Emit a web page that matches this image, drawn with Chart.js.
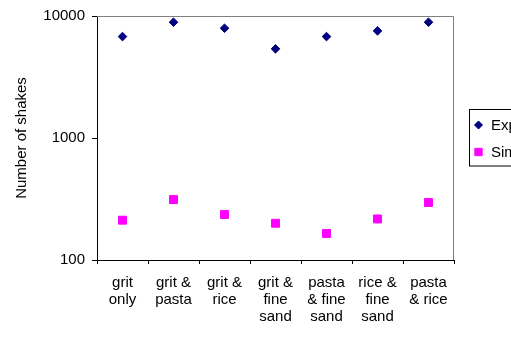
<!DOCTYPE html>
<html>
<head>
<meta charset="utf-8">
<script src="https://cdn.jsdelivr.net/npm/chart.js@4/dist/chart.umd.min.js"></script>
<style>
  html, body { margin: 0; padding: 0; background: #fff; overflow: hidden; }
  #wrap { width: 511px; height: 338px; }
</style>
</head>
<body>
<div id="wrap"><canvas id="c" width="511" height="338"></canvas></div>
<script>
const categories = [
  ["grit", "only"],
  ["grit &", "pasta"],
  ["grit &", "rice"],
  ["grit &", "fine", "sand"],
  ["pasta", "& fine", "sand"],
  ["rice &", "fine", "sand"],
  ["pasta", "& rice"]
];
const seriesNames = ["Experiment", "Simulation"];
const experiment = [6780, 8890, 7940, 5380, 6780, 7550, 8890];
const simulation = [212, 313, 236, 200, 165, 217, 296];
const yTicks = [100, 1000, 10000];
const yTitle = "Number of shakes";

const FONT = "'Liberation Sans', Arial, sans-serif";
Chart.defaults.font.family = FONT;
Chart.defaults.font.size = 15;
Chart.defaults.color = '#000';

const plotBorder = {
  id: 'plotBorder',
  beforeDatasetsDraw(chart) {
    const { ctx, chartArea: a } = chart;
    ctx.save();
    ctx.strokeStyle = '#808080';
    ctx.lineWidth = 1;
    ctx.beginPath();
    ctx.moveTo(a.left, Math.round(a.top) + 0.5);
    ctx.lineTo(Math.round(a.right) - 0.5, Math.round(a.top) + 0.5);
    ctx.lineTo(Math.round(a.right) - 0.5, a.bottom);
    ctx.stroke();
    ctx.restore();
  }
};

const sideLegend = {
  id: 'sideLegend',
  afterDraw(chart) {
    const { ctx } = chart;
    ctx.save();
    ctx.strokeStyle = '#000';
    ctx.lineWidth = 1;
    ctx.strokeRect(469.5, 109.5, 80, 56.5);
    ctx.font = '15px ' + FONT;
    ctx.textBaseline = 'middle';
    ctx.textAlign = 'left';
    chart.data.datasets.forEach((ds, i) => {
      const y = 125 + i * 27;
      ctx.fillStyle = ds.backgroundColor;
      ctx.strokeStyle = ds.borderColor;
      ctx.lineWidth = 1;
      Chart.helpers.drawPoint(ctx, {
        pointStyle: ds.pointStyle,
        radius: ds.pointStyle === 'rect' ? 5.2 : 4,
        borderWidth: 1,
        rotation: 0
      }, 478.5, y);
      ctx.fillStyle = '#000';
      ctx.fillText(ds.label, 491, y + 1);
    });
    ctx.restore();
  }
};

new Chart(document.getElementById('c'), {
  type: 'line',
  data: {
    labels: categories,
    datasets: [
      {
        label: seriesNames[0],
        data: experiment,
        showLine: false,
        pointStyle: 'rectRot',
        pointRadius: 4.3,
        pointBorderWidth: 1,
        backgroundColor: '#000080',
        borderColor: '#000080',
        clip: false
      },
      {
        label: seriesNames[1],
        data: simulation,
        showLine: false,
        pointStyle: 'rect',
        pointRadius: 5.6,
        pointBorderWidth: 1,
        backgroundColor: '#FF00FF',
        borderColor: '#FF00FF',
        clip: false
      }
    ]
  },
  options: {
    responsive: false,
    animation: false,
    events: [],
    layout: { padding: { top: 16, right: 57, left: 0, bottom: 0 } },
    plugins: {
      legend: { display: false },
      tooltip: { enabled: false }
    },
    scales: {
      x: {
        type: 'category',
        offset: true,
        grid: { offset: true, drawOnChartArea: false, tickLength: 4, color: '#000' },
        border: { color: '#000' },
        ticks: {
          font: { size: 15, lineHeight: 1.15 },
          color: '#000',
          padding: 10,
          maxRotation: 0,
          autoSkip: false
        },
        afterFit(s) { s.height = 78; }
      },
      y: {
        type: 'logarithmic',
        min: 100,
        max: 10000,
        afterBuildTicks(s) { s.ticks = yTicks.map(v => ({ value: v })); },
        grid: { drawOnChartArea: false, tickLength: 5, color: '#000' },
        border: { color: '#000' },
        ticks: {
          font: { size: 15 },
          color: '#000',
          padding: 7,
          callback: v => String(v)
        },
        title: {
          display: true,
          text: yTitle,
          font: { size: 15 },
          color: '#000',
          padding: { top: 13, bottom: 0 }
        },
        afterFit(s) { s.width = 97; }
      }
    }
  },
  plugins: [plotBorder, sideLegend]
});
</script>
</body>
</html>
